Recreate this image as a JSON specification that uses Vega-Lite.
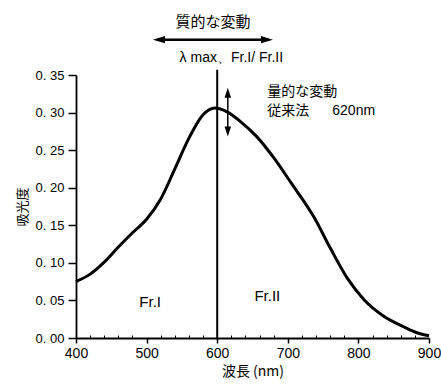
{
  "$schema": "https://vega.github.io/schema/vega-lite/v6.json",
  "autosize": "none",
  "width": 353,
  "height": 263,
  "padding": {"left": 76, "top": 75, "right": 12, "bottom": 48},
  "background": "white",
  "config": {
    "view": {"stroke": null},
    "font": "Liberation Sans",
    "axis": {"grid": false, "domainColor": "black", "tickColor": "black", "domainWidth": 1.8, "tickWidth": 1.5, "labelColor": "black", "titleColor": "black", "labelFont": "Liberation Sans", "titleFontWeight": "normal", "labelOverlap": false}
  },
  "datasets": {
    "curve": [
      {"wl": 400, "abs": 0.075},
      {"wl": 420, "abs": 0.085},
      {"wl": 440, "abs": 0.101},
      {"wl": 460, "abs": 0.121},
      {"wl": 480, "abs": 0.140},
      {"wl": 500, "abs": 0.158},
      {"wl": 520, "abs": 0.185},
      {"wl": 540, "abs": 0.225},
      {"wl": 560, "abs": 0.266},
      {"wl": 580, "abs": 0.297},
      {"wl": 597, "abs": 0.306},
      {"wl": 614, "abs": 0.301},
      {"wl": 633, "abs": 0.288},
      {"wl": 656, "abs": 0.268},
      {"wl": 680, "abs": 0.240},
      {"wl": 705, "abs": 0.206},
      {"wl": 737, "abs": 0.161},
      {"wl": 760, "abs": 0.120},
      {"wl": 784, "abs": 0.080},
      {"wl": 808, "abs": 0.051},
      {"wl": 836, "abs": 0.029},
      {"wl": 864, "abs": 0.015},
      {"wl": 883, "abs": 0.007},
      {"wl": 900, "abs": 0.003}
    ]
  },
  "resolve": {"axis": {"x": "independent", "y": "independent"}},
  "layer": [
    {
      "data": {"name": "curve"},
      "mark": {"type": "line", "color": "black", "strokeWidth": 3, "interpolate": "monotone"},
      "encoding": {
        "x": {"field": "wl", "type": "quantitative", "scale": {"domain": [400, 900], "nice": false},
              "axis": {"orient": "bottom", "values": [400, 500, 600, 700, 800, 900], "title": "波長 (nm)", "titleFont": "Noto Sans CJK JP", "titleFontSize": 14, "titlePadding": 4, "labelFontSize": 14, "tickSize": 5, "labelPadding": 3, "labelFlush": false}},
        "y": {"field": "abs", "type": "quantitative", "scale": {"domain": [0, 0.35], "nice": false},
              "axis": {"orient": "left", "values": [0, 0.05, 0.1, 0.15, 0.2, 0.25, 0.3, 0.35], "labelExpr": "replace(format(datum.value, '.2f'), '.', '. ')", "title": "吸光度", "titleFont": "Noto Sans CJK JP", "titleFontSize": 13, "titlePadding": 6, "labelFontSize": 13, "tickSize": 8, "labelPadding": 4, "labelOverlap": false}}
      }
    },
    {
      "data": {"values": [{}]},
      "mark": {"type": "rule", "color": "black", "strokeWidth": 2},
      "encoding": {
        "x": {"datum": 600, "type": "quantitative", "axis": {"orient": "top", "offset": -263, "values": [420,440,460,480,520,540,560,580,620,640,660,680,720,740,760,780,820,840,860,880], "labels": false, "domain": false, "tickSize": 3, "tickWidth": 1, "title": null}},
        "y": {"datum": 0, "type": "quantitative", "axis": null},
        "y2": {"datum": 0.357}
      }
    },
    {
      "data": {"values": [{}]},
      "mark": {"type": "rule", "color": "black", "strokeWidth": 1.5},
      "encoding": {
        "x": {"datum": 615, "type": "quantitative", "axis": null},
        "y": {"datum": 0.272, "type": "quantitative", "axis": null},
        "y2": {"datum": 0.328}
      }
    },
    {
      "data": {"values": [{}]},
      "mark": {"type": "point", "filled": true, "color": "black", "opacity": 1, "shape": "M0,0L-0.65,2L0.65,2Z", "size": 100},
      "encoding": {
        "x": {"datum": 615, "type": "quantitative", "axis": null},
        "y": {"datum": 0.333, "type": "quantitative", "axis": null}
      }
    },
    {
      "data": {"values": [{}]},
      "mark": {"type": "point", "filled": true, "color": "black", "opacity": 1, "shape": "M0,0L-0.65,-2L0.65,-2Z", "size": 100},
      "encoding": {
        "x": {"datum": 615, "type": "quantitative", "axis": null},
        "y": {"datum": 0.268, "type": "quantitative", "axis": null}
      }
    },
    {
      "data": {"values": [{}]},
      "mark": {"type": "rule", "color": "black", "strokeWidth": 2.5},
      "encoding": {
        "x": {"datum": 515, "type": "quantitative", "axis": null},
        "x2": {"datum": 673},
        "y": {"datum": 0.397, "type": "quantitative", "axis": null}
      }
    },
    {
      "data": {"values": [{}]},
      "mark": {"type": "point", "filled": true, "color": "black", "opacity": 1, "shape": "M0,0L2,-0.6L2,0.6Z", "size": 144},
      "encoding": {
        "x": {"datum": 509, "type": "quantitative", "axis": null},
        "y": {"datum": 0.397, "type": "quantitative", "axis": null}
      }
    },
    {
      "data": {"values": [{}]},
      "mark": {"type": "point", "filled": true, "color": "black", "opacity": 1, "shape": "M0,0L-2,-0.6L-2,0.6Z", "size": 144},
      "encoding": {
        "x": {"datum": 679, "type": "quantitative", "axis": null},
        "y": {"datum": 0.397, "type": "quantitative", "axis": null}
      }
    },
    {
      "data": {"values": [{}]},
      "mark": {"type": "text", "font": "Noto Sans CJK JP", "fontSize": 15, "align": "center", "baseline": "middle", "color": "black"},
      "encoding": {
        "x": {"datum": 594, "type": "quantitative", "axis": null},
        "y": {"datum": 0.421, "type": "quantitative", "axis": null},
        "text": {"value": "質的な変動"}
      }
    },
    {
      "data": {"values": [{}]},
      "mark": {"type": "text", "font": "Liberation Sans", "fontSize": 14, "align": "center", "baseline": "middle", "color": "black"},
      "encoding": {
        "x": {"datum": 620, "type": "quantitative", "axis": null},
        "y": {"datum": 0.373, "type": "quantitative", "axis": null},
        "text": {"value": "λ max、Fr.I/ Fr.II"}
      }
    },
    {
      "data": {"values": [{}]},
      "mark": {"type": "text", "font": "Noto Sans CJK JP", "fontSize": 14, "align": "left", "baseline": "middle", "color": "black"},
      "encoding": {
        "x": {"datum": 671, "type": "quantitative", "axis": null},
        "y": {"datum": 0.328, "type": "quantitative", "axis": null},
        "text": {"value": "量的な変動"}
      }
    },
    {
      "data": {"values": [{}]},
      "mark": {"type": "text", "font": "Noto Sans CJK JP", "fontSize": 14, "align": "left", "baseline": "middle", "color": "black"},
      "encoding": {
        "x": {"datum": 671, "type": "quantitative", "axis": null},
        "y": {"datum": 0.302, "type": "quantitative", "axis": null},
        "text": {"value": "従来法"}
      }
    },
    {
      "data": {"values": [{}]},
      "mark": {"type": "text", "font": "Liberation Sans", "fontSize": 14, "align": "left", "baseline": "middle", "color": "black"},
      "encoding": {
        "x": {"datum": 763, "type": "quantitative", "axis": null},
        "y": {"datum": 0.302, "type": "quantitative", "axis": null},
        "text": {"value": "620nm"}
      }
    },
    {
      "data": {"values": [{}]},
      "mark": {"type": "text", "font": "Liberation Sans", "fontSize": 15, "align": "center", "baseline": "middle", "color": "black"},
      "encoding": {
        "x": {"datum": 505, "type": "quantitative", "axis": null},
        "y": {"datum": 0.0476, "type": "quantitative", "axis": null},
        "text": {"value": "Fr.I"}
      }
    },
    {
      "data": {"values": [{}]},
      "mark": {"type": "text", "font": "Liberation Sans", "fontSize": 15, "align": "center", "baseline": "middle", "color": "black"},
      "encoding": {
        "x": {"datum": 671, "type": "quantitative", "axis": null},
        "y": {"datum": 0.0556, "type": "quantitative", "axis": null},
        "text": {"value": "Fr.II"}
      }
    }
  ]
}
